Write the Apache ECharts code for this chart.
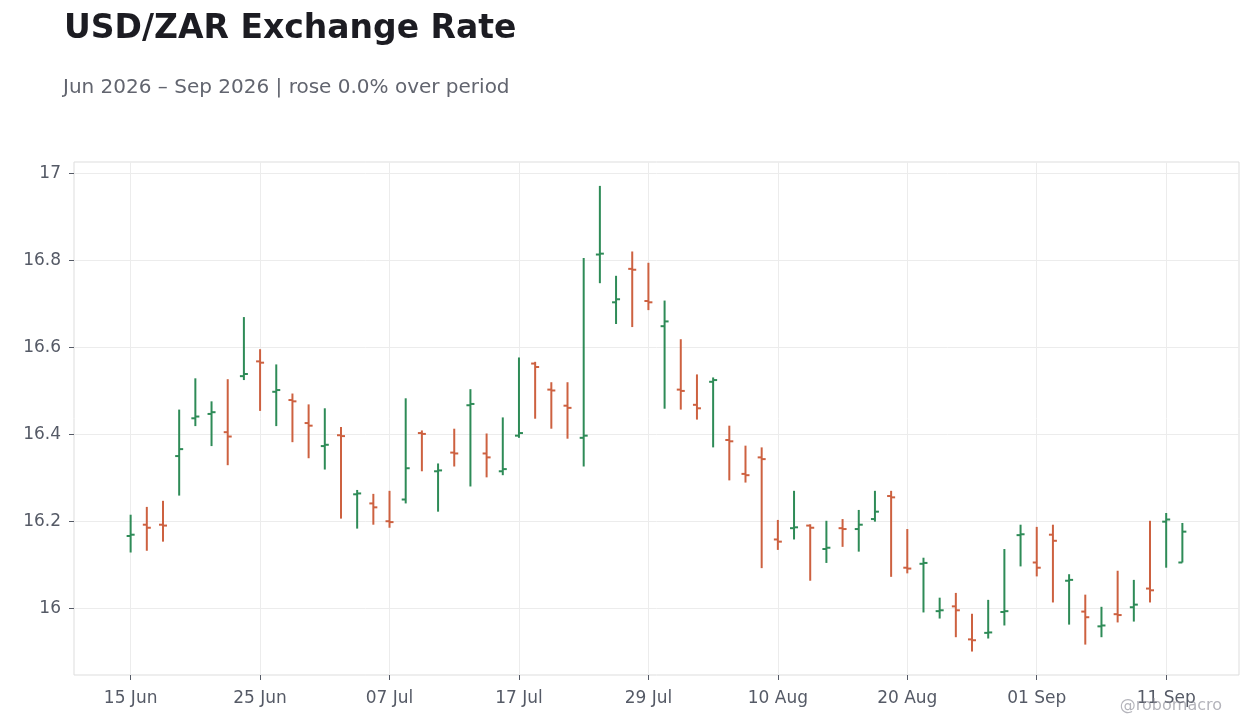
<!DOCTYPE html>
<html>
<head>
<meta charset="utf-8">
<title>USD/ZAR Exchange Rate</title>
<script src="https://cdn.jsdelivr.net/npm/echarts@6/dist/echarts.min.js"></script>
<style>
  html, body { margin: 0; padding: 0; background: #fff; }
  #main { width: 1260px; height: 728px; }
</style>
</head>
<body>
<div id="main"></div>
<script>
// business days, 15 Jun - 14 Sep 2026
const dates = [
  '2026-06-15','2026-06-16','2026-06-17','2026-06-18','2026-06-19','2026-06-22','2026-06-23','2026-06-24','2026-06-25','2026-06-26','2026-06-29','2026-06-30',
  '2026-07-01','2026-07-02','2026-07-03','2026-07-06','2026-07-07','2026-07-08','2026-07-09','2026-07-10','2026-07-13','2026-07-14','2026-07-15','2026-07-16','2026-07-17',
  '2026-07-20','2026-07-21','2026-07-22','2026-07-23','2026-07-24','2026-07-27','2026-07-28','2026-07-29','2026-07-30','2026-07-31',
  '2026-08-03','2026-08-04','2026-08-05','2026-08-06','2026-08-07','2026-08-10','2026-08-11','2026-08-12','2026-08-13','2026-08-14',
  '2026-08-17','2026-08-18','2026-08-19','2026-08-20','2026-08-21','2026-08-24','2026-08-25','2026-08-26','2026-08-27','2026-08-28','2026-08-31',
  '2026-09-01','2026-09-02','2026-09-03','2026-09-04','2026-09-07','2026-09-08','2026-09-09','2026-09-10','2026-09-11','2026-09-14'
];

const opens = [
  16.166, 16.192, 16.192, 16.350, 16.437, 16.447, 16.405, 16.534, 16.568, 16.498, 16.479, 16.426,
  16.373, 16.398, 16.262, 16.241, 16.200, 16.250, 16.403, 16.315, 16.358, 16.467, 16.356, 16.315,
  16.397, 16.563, 16.503, 16.466, 16.392, 16.814, 16.704, 16.781, 16.707, 16.649, 16.503, 16.468,
  16.521, 16.387, 16.309, 16.347, 16.158, 16.184, 16.190, 16.136, 16.184, 16.182, 16.205, 16.258,
  16.093, 16.102, 15.993, 16.004, 15.928, 15.943, 15.991, 16.168, 16.105, 16.169, 16.063, 15.992,
  15.958, 15.986, 16.002, 16.045, 16.199, 16.105
];
const closes = [
  16.169, 16.185, 16.190, 16.366, 16.441, 16.451, 16.395, 16.539, 16.565, 16.502, 16.476, 16.420,
  16.376, 16.396, 16.264, 16.232, 16.198, 16.322, 16.401, 16.317, 16.356, 16.470, 16.347, 16.320,
  16.403, 16.555, 16.501, 16.461, 16.397, 16.816, 16.711, 16.779, 16.704, 16.660, 16.500, 16.460,
  16.525, 16.384, 16.306, 16.343, 16.153, 16.186, 16.185, 16.139, 16.182, 16.192, 16.222, 16.255,
  16.091, 16.104, 15.995, 15.995, 15.926, 15.944, 15.993, 16.170, 16.093, 16.155, 16.065, 15.979,
  15.960, 15.984, 16.008, 16.041, 16.204, 16.176
];
const lows = [
  16.128, 16.132, 16.153, 16.259, 16.419, 16.373, 16.329, 16.525, 16.454, 16.419, 16.382, 16.345,
  16.319, 16.206, 16.183, 16.192, 16.185, 16.241, 16.315, 16.222, 16.326, 16.280, 16.301, 16.306,
  16.392, 16.436, 16.413, 16.390, 16.326, 16.748, 16.654, 16.647, 16.686, 16.459, 16.457, 16.434,
  16.370, 16.294, 16.289, 16.092, 16.134, 16.158, 16.063, 16.104, 16.141, 16.130, 16.199, 16.072,
  16.080, 15.990, 15.976, 15.933, 15.900, 15.930, 15.960, 16.096, 16.073, 16.013, 15.962, 15.916,
  15.933, 15.967, 15.969, 16.013, 16.093, 16.105
];
const highs = [
  16.215, 16.233, 16.247, 16.457, 16.529, 16.476, 16.527, 16.670, 16.596, 16.561, 16.494, 16.469,
  16.460, 16.417, 16.272, 16.263, 16.270, 16.483, 16.409, 16.333, 16.413, 16.504, 16.402, 16.439,
  16.577, 16.567, 16.520, 16.520, 16.806, 16.972, 16.765, 16.821, 16.795, 16.708, 16.619, 16.538,
  16.531, 16.420, 16.374, 16.370, 16.203, 16.270, 16.193, 16.201, 16.205, 16.226, 16.270, 16.270,
  16.182, 16.116, 16.024, 16.035, 15.987, 16.019, 16.136, 16.192, 16.187, 16.192, 16.078, 16.031,
  16.003, 16.086, 16.065, 16.201, 16.219, 16.196
];

const yTicks = [16, 16.2, 16.4, 16.6, 16.8, 17];

const upColor = '#2e8b57';
const downColor = '#cd6140';
const PAD = 3; // empty slots each side of the category axis
const months = ['Jan','Feb','Mar','Apr','May','Jun','Jul','Aug','Sep','Oct','Nov','Dec'];

document.addEventListener('DOMContentLoaded', function () {
    const cats = [];
    for (let i = 0; i < PAD; i++) cats.push('pre' + i);
    dates.forEach((d) => cats.push(d));
    for (let i = 0; i < PAD; i++) cats.push('post' + i);

    const data = dates.map((d, i) => [i + PAD, opens[i], closes[i], lows[i], highs[i]]);

    // label every 8th trading day
    const showIdx = function (index) {
        return index >= PAD && index < PAD + dates.length && (index - PAD) % 8 === 0;
    };

    function renderItem(params, api) {
        const x = api.value(0);
        const o = api.coord([x, api.value(1)]);
        const c = api.coord([x, api.value(2)]);
        const l = api.coord([x, api.value(3)]);
        const h = api.coord([x, api.value(4)]);
        const color = api.value(2) >= api.value(1) ? upColor : downColor;
        const st = { stroke: color, lineWidth: 2 };
        return {
            type: 'group',
            children: [
                { type: 'line', shape: { x1: h[0], y1: h[1], x2: l[0], y2: l[1] }, style: st },
                { type: 'line', shape: { x1: o[0] - 4, y1: o[1], x2: o[0], y2: o[1] }, style: st },
                { type: 'line', shape: { x1: c[0], y1: c[1], x2: c[0] + 4, y2: c[1] }, style: st }
            ]
        };
    }

    const font = 'DejaVu Sans';
    let options = {
        backgroundColor: '#ffffff',
        animation: false,
        textStyle: { fontFamily: font },
        title: [
            {
                text: 'USD/ZAR Exchange Rate',
                left: 59, top: 8,
                textStyle: { fontFamily: font, fontSize: 33, fontWeight: 'bold', color: '#1c1c22' }
            },
            {
                text: 'Jun 2026 – Sep 2026 | rose 0.0% over period',
                left: 58, top: 73,
                textStyle: { fontFamily: font, fontSize: 20, fontWeight: 'normal', color: '#62656f' }
            }
        ],
        grid: {
            left: 74, right: 21, top: 162, bottom: 53,
            show: true, borderColor: '#dddddd', borderWidth: 1
        },
        xAxis: {
            type: 'category',
            data: cats,
            boundaryGap: true,
            axisLine: { show: false },
            axisTick: { show: true, alignWithLabel: true, interval: showIdx, length: 5, lineStyle: { color: '#555a66' } },
            axisLabel: {
                interval: showIdx,
                margin: 15,
                fontFamily: font, fontSize: 17, color: '#555a66',
                formatter: function (v) {
                    const p = v.split('-');
                    return p[2] + ' ' + months[parseInt(p[1], 10) - 1];
                }
            },
            splitLine: { show: true, alignWithLabel: true, interval: showIdx, lineStyle: { color: '#ececec', width: 1 } }
        },
        yAxis: {
            type: 'value',
            min: 15.846,
            max: 17.027,
            axisLine: { show: false },
            axisTick: { show: true, length: 5, customValues: yTicks, lineStyle: { color: '#555a66' } },
            axisLabel: {
                customValues: yTicks,
                margin: 13,
                fontFamily: font, fontSize: 17, color: '#555a66'
            },
            splitLine: { show: true, lineStyle: { color: '#ececec', width: 1 } }
        },
        graphic: [{
            type: 'text',
            right: 38, bottom: 14,
            style: { text: '@robomacro', fontFamily: font, fontSize: 16, fill: 'rgba(140,140,150,0.65)' },
            z: 100
        }],
        series: [{
            type: 'custom',
            name: 'USD/ZAR',
            renderItem: renderItem,
            encode: { x: 0, y: [1, 2, 3, 4] },
            data: data
        }]
    };

    let myChart = echarts.init(document.getElementById('main'));
    myChart.setOption(options);
});
</script>
</body>
</html>
